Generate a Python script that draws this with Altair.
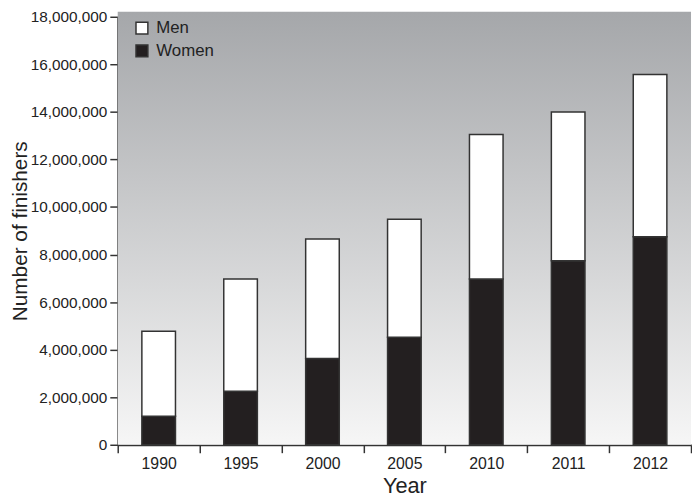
import altair as alt
import pandas as pd

years = ["1990", "1995", "2000", "2005", "2010", "2011", "2012"]
women = [1200000, 2250000, 3630000, 4520000, 6970000, 7740000, 8750000]
men = [3570000, 4720000, 5020000, 4960000, 6080000, 6260000, 6820000]
groups = ["Men", "Women"]
y_ticks = list(range(0, 18000001, 2000000))

rows = []
for y, w, m in zip(years, women, men):
    rows.append({"Year": y, "Sex": "Women", "Value": w, "ord": 0})
    rows.append({"Year": y, "Sex": "Men", "Value": m, "ord": 1})
df = pd.DataFrame(rows)

W, H = 580, 433
FONT = "Liberation Sans, Arial, sans-serif"

bg = alt.Chart(pd.DataFrame({"a": [0]})).mark_rect(
    color=alt.LinearGradient(
        gradient="linear", x1=0, y1=0, x2=0, y2=1,
        stops=[alt.GradientStop(offset=0, color="#a5a7aa"),
               alt.GradientStop(offset=1, color="#f6f6f6")]
    )
).encode(x=alt.value(0), x2=alt.value(W), y=alt.value(-5), y2=alt.value(H))

bars = alt.Chart(df).mark_bar(size=34, stroke="#333333", strokeWidth=1.5).encode(
    x=alt.X("Year:N", sort=years, title="Year",
            scale=alt.Scale(paddingInner=0, paddingOuter=0),
            axis=alt.Axis(labelAngle=0, tickBand="extent", labelPadding=3, titlePadding=4)),
    y=alt.Y("Value:Q", stack="zero", title="Number of finishers",
            scale=alt.Scale(domain=[0, 18000000], nice=False),
            axis=alt.Axis(values=y_ticks, format=",d", labelPadding=3, titleX=-88,
                          titleFontSize=21, labelFontSize=15.5)),
    color=alt.Color("Sex:N", title=None,
                    scale=alt.Scale(domain=groups, range=["#ffffff", "#231f20"]),
                    legend=alt.Legend(orient="none", legendX=16, legendY=3, padding=0,
                                      symbolType="square", symbolSize=144,
                                      symbolStrokeColor="#333333", symbolStrokeWidth=1.5,
                                      labelFontSize=17, labelOffset=6, rowPadding=4,
                                      labelFont=FONT, labelColor="#222222")),
    order=alt.Order("ord:Q"),
)

chart = alt.layer(bg, bars).properties(
    width=W, height=H,
    autosize=alt.AutoSizeParams(type="none"),
    padding={"left": 111, "top": 6, "right": 1, "bottom": 53},
).configure_view(stroke="transparent").configure_axis(
    grid=False, domainColor="#333333", domainWidth=2, tickColor="#333333",
    tickWidth=1.5, tickSize=8, labelFontSize=16, labelFont=FONT, labelColor="#222222",
    titleFont=FONT, titleFontSize=22, titleFontWeight="normal", titleColor="#222222",
)

chart.save("out.html", embed_options={"renderer": "svg", "actions": False})
